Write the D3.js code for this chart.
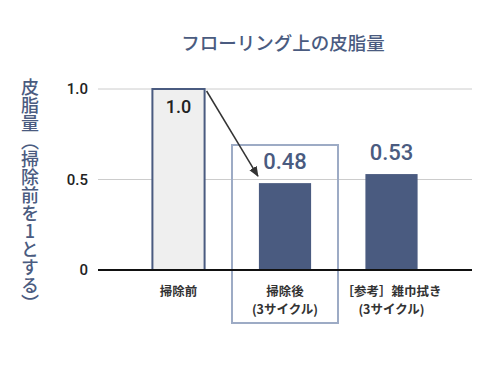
<!DOCTYPE html>
<html><head><meta charset="utf-8">
<script src="https://cdn.jsdelivr.net/npm/d3@7"></script>
<style>body{margin:0;background:#fff;}svg{display:block;font-family:"Noto Sans CJK JP","Noto Sans",sans-serif;}</style>
</head><body>
<script>
const categories = ["掃除前", "掃除後\n(3サイクル)", "［参考］雑巾拭き\n(3サイクル)"];
const values = [1.0, 0.48, 0.53];
const valueLabels = ["1.0", "0.48", "0.53"];
const yTicks = [0, 0.5, 1.0];
const yTickLabels = ["0", "0.5", "1.0"];
const title = "フローリング上の皮脂量";
const yTitle = "皮脂量（掃除前を1とする）";

const W = 490, H = 368;
const navy = "#4a5b80";
const svg = d3.select("body").append("svg").attr("width", W).attr("height", H);

const y = d3.scaleLinear().domain([0, 1]).range([270, 89]);
const x = d3.scaleBand().domain(categories).range([125.25, 444.75]).paddingInner(0.51).paddingOuter(0.255);

// gridlines
svg.append("g").selectAll("line").data(yTicks.filter(d => d > 0)).join("line")
  .attr("x1", 98).attr("x2", 472).attr("y1", d => y(d)).attr("y2", d => y(d))
  .attr("stroke", "#cccccc").attr("stroke-width", 1);

// tick labels
svg.append("g").selectAll("text").data(yTicks).join("text")
  .attr("x", 88).attr("y", d => y(d)).attr("dy", "0.36em")
  .attr("text-anchor", "end").attr("font-family", "Roboto, sans-serif")
  .attr("font-size", 15).attr("font-weight", 500).attr("fill", "#222")
  .text((d, i) => yTickLabels[i]);

// highlight box around second category
const c2 = x(categories[1]) + x.bandwidth() / 2;
svg.append("rect").attr("x", c2 - 53).attr("y", 145).attr("width", 106).attr("height", 178)
  .attr("fill", "none").attr("stroke", "#9dabc5").attr("stroke-width", 2);

// bars
svg.append("g").selectAll("rect").data(values).join("rect")
  .attr("x", (d, i) => x(categories[i])).attr("width", x.bandwidth())
  .attr("y", d => y(d)).attr("height", d => y(0) - y(d))
  .attr("fill", (d, i) => i === 0 ? "#efefef" : navy)
  .attr("stroke", (d, i) => i === 0 ? navy : "none").attr("stroke-width", 2);

// baseline
svg.append("line").attr("x1", 98).attr("x2", 472).attr("y1", y(0)).attr("y2", y(0))
  .attr("stroke", "#111").attr("stroke-width", 2);

// value labels
svg.append("g").selectAll("text").data(values).join("text")
  .attr("x", (d, i) => x(categories[i]) + x.bandwidth() / 2)
  .attr("y", (d, i) => i === 0 ? y(d) + 18 : y(d) - 22)
  .attr("dy", "0.36em").attr("text-anchor", "middle")
  .attr("font-family", "Roboto, sans-serif")
  .attr("font-size", (d, i) => i === 0 ? 18 : 22)
  .attr("font-weight", 500)
  .attr("fill", (d, i) => i === 0 ? "#222" : navy)
  .text((d, i) => valueLabels[i]);

// arrow
svg.append("defs").append("marker").attr("id", "ah").attr("viewBox", "0 0 10 10")
  .attr("refX", 9).attr("refY", 5).attr("markerWidth", 7).attr("markerHeight", 7)
  .attr("orient", "auto").append("path").attr("d", "M0,1 L10,5 L0,9 z").attr("fill", "#333");
svg.append("line")
  .attr("x1", x(categories[0]) + x.bandwidth() + 2).attr("y1", y(values[0]) + 2)
  .attr("x2", x(categories[1]) - 1).attr("y2", y(values[1]) - 7)
  .attr("stroke", "#333").attr("stroke-width", 1.5).attr("marker-end", "url(#ah)");

// x labels, one text per line
const lines = [];
categories.forEach(c => c.split("\n").forEach((l, i) => lines.push({c, l, i})));
svg.append("g").selectAll("text").data(lines).join("text")
  .attr("x", d => x(d.c) + x.bandwidth() / 2).attr("y", d => 295.5 + d.i * 18.5)
  .attr("text-anchor", "middle").attr("font-size", 12.5).attr("font-weight", 700).attr("fill", "#333")
  .text(d => d.l);

// title
svg.append("text").attr("x", 283).attr("y", 50).attr("text-anchor", "middle")
  .attr("font-size", 18.5).attr("font-weight", 500).attr("fill", navy).text(title);

// y title vertical
svg.append("text").attr("x", 30).attr("y", 78)
  .attr("style", "writing-mode: vertical-rl; text-orientation: upright;")
  .attr("font-size", 18).attr("font-weight", 500).attr("fill", navy).text(yTitle);
</script>
</body></html>
